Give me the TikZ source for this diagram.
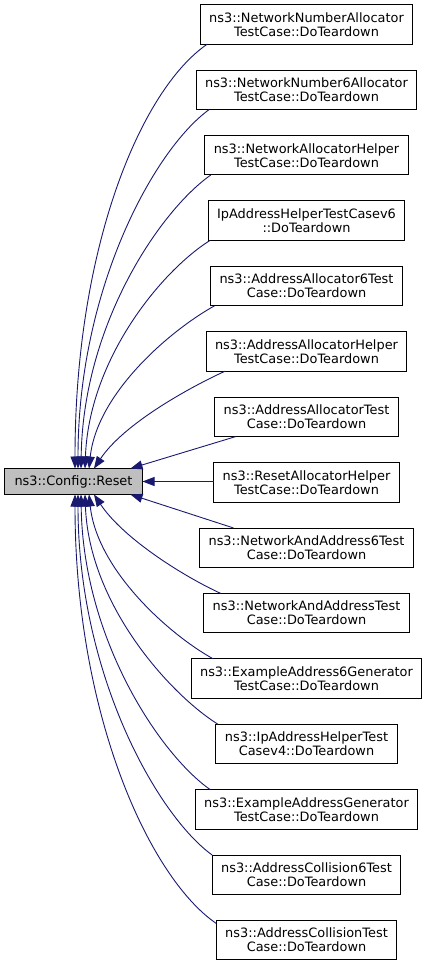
\documentclass[tikz,border=0pt]{standalone}
\usepackage{fontspec}
\usepackage{tikz}
\usetikzlibrary{positioning, arrows.meta}
\newfontfamily\graphfont{DejaVu Sans}
\definecolor{edgeblue}{HTML}{191970}
\definecolor{resetgray}{HTML}{BFBFBF}

\begin{document}
\begin{tikzpicture}[x=1pt, y=-1pt,
    callbox/.style={draw=black, line width=1pt, align=center, inner xsep=9pt, inner ysep=2pt, outer sep=0pt,
        minimum height=39.4pt, font=\graphfont\fontsize{12.9}{14}\selectfont},
    callarrow/.style={{Triangle[length=12pt,width=9pt]}-, draw=edgeblue, line width=0.9pt},
    node distance=26pt]
    \useasboundingbox (0,0) rectangle (429,965);

    % Draw the called function
    \node[callbox, fill=resetgray, minimum width=138pt, minimum height=26pt] (reset) at (73.5,481.5) {ns3::Config::Reset};

    % Draw the callers
    \node[callbox] (b1) at (306.5,24.5) {ns3::NetworkNumberAllocator\\TestCase::DoTeardown};
    \node[callbox, below=of b1] (b2) {ns3::NetworkNumber6Allocator\\TestCase::DoTeardown};
    \node[callbox, below=of b2] (b3) {ns3::NetworkAllocatorHelper\\TestCase::DoTeardown};
    \node[callbox, below=of b3] (b4) {IpAddressHelperTestCasev6\\::DoTeardown};
    \node[callbox, below=of b4] (b5) {ns3::AddressAllocator6Test\\Case::DoTeardown};
    \node[callbox, below=of b5] (b6) {ns3::AddressAllocatorHelper\\TestCase::DoTeardown};
    \node[callbox, below=of b6] (b7) {ns3::AddressAllocatorTest\\Case::DoTeardown};
    \node[callbox, below=of b7] (b8) {ns3::ResetAllocatorHelper\\TestCase::DoTeardown};
    \node[callbox, below=of b8] (b9) {ns3::NetworkAndAddress6Test\\Case::DoTeardown};
    \node[callbox, below=of b9] (b10) {ns3::NetworkAndAddressTest\\Case::DoTeardown};
    \node[callbox, below=of b10] (b11) {ns3::ExampleAddress6Generator\\TestCase::DoTeardown};
    \node[callbox, below=of b11] (b12) {ns3::IpAddressHelperTest\\Casev4::DoTeardown};
    \node[callbox, below=of b12] (b13) {ns3::ExampleAddressGenerator\\TestCase::DoTeardown};
    \node[callbox, below=of b13] (b14) {ns3::AddressCollision6Test\\Case::DoTeardown};
    \node[callbox, below=of b14] (b15) {ns3::AddressCollisionTest\\Case::DoTeardown};

    % Upper calls
    \draw[callarrow] ([xshift=1.5]reset.north) .. controls +(0,-220) and +(-67,46) .. ([xshift=7]b1.south west);
    \draw[callarrow] ([xshift=4.5]reset.north) .. controls +(0,-180) and +(-55,40) .. ([xshift=13]b2.south west);
    \draw[callarrow] ([xshift=7.5]reset.north) .. controls +(2,-145) and +(-50,35) .. ([xshift=6]b3.south west);
    \draw[callarrow] ([xshift=11.5]reset.north) .. controls +(4,-110) and +(-48,30) .. ([xshift=2]b4.south west);
    \draw[callarrow] ([xshift=15.5]reset.north) .. controls +(8,-75) and +(-45,25) .. ([xshift=4]b5.south west);
    \draw[callarrow] ([xshift=20.5]reset.north) .. controls +(30,-45) and +(-35,16) .. ([xshift=19]b6.south west);

    % Middle calls
    \draw[callarrow] ([xshift=-12]reset.north east) -- ([xshift=21]b7.south west);
    \draw[callarrow] (reset.east) -- (reset.east -| b8.west);
    \draw[callarrow] ([xshift=-12]reset.south east) -- ([xshift=34]b9.north west);

    % Lower calls
    \draw[callarrow] ([xshift=20.5]reset.south) .. controls +(30,45) and +(-35,-16) .. ([xshift=17]b10.north west);
    \draw[callarrow] ([xshift=15.5]reset.south) .. controls +(8,75) and +(-45,-25) .. ([xshift=22]b11.north west);
    \draw[callarrow] ([xshift=11.5]reset.south) .. controls +(4,110) and +(-48,-30) .. ([xshift=2]b12.north west);
    \draw[callarrow] ([xshift=7.5]reset.south) .. controls +(2,145) and +(-50,-35) .. ([xshift=15]b13.north west);
    \draw[callarrow] ([xshift=4.5]reset.south) .. controls +(0,180) and +(-55,-40) .. (b14.north west);
    \draw[callarrow] ([xshift=1.5]reset.south) .. controls +(0,220) and +(-67,-46) .. ([yshift=-3]b15.north west);
\end{tikzpicture}
\end{document}
